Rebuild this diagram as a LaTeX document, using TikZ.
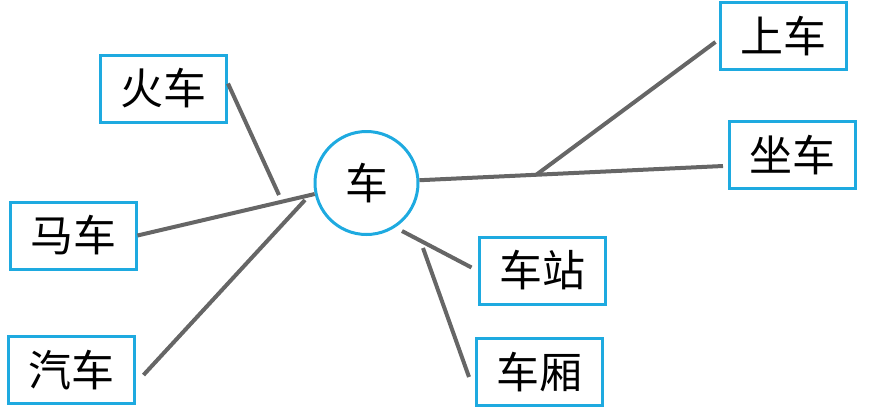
\documentclass[tikz,border=0pt]{standalone}
\usepackage{xcolor}
\usepackage{fontspec}
\usepackage{tikz}
\usetikzlibrary{calc}
\newfontfamily\cjk{Noto Sans CJK SC}
\definecolor{boxblue}{HTML}{1EAAE0}
\definecolor{linegray}{HTML}{666666}
\tikzset{
	wordbox/.style={draw=boxblue, line width=3pt, minimum width=126pt, minimum height=67pt,
		inner sep=0pt, font=\cjk\fontsize{43}{46}\selectfont},
	wordcircle/.style={draw=boxblue, line width=3pt, circle, minimum size=103pt,
		inner sep=0pt, font=\cjk\fontsize{43}{46}\selectfont},
	link/.style={draw=linegray, line width=4pt}
}
\begin{document}
\begin{tikzpicture}[x=1pt, y=-1pt]
	\useasboundingbox (0,0) rectangle (889,408);
	\node[wordcircle] (che) at (366.5,183) {车};
	\node[wordbox] (huoche) at (163.5,88.5) {火车};
	\node[wordbox] (mache) at (73,235.5) {马车};
	\node[wordbox] (qiche) at (71,370) {汽车};
	\node[wordbox] (shangche) at (783,36) {上车};
	\node[wordbox] (zuoche) at (792,155) {坐车};
	\node[wordbox] (chezhan) at (542,270.5) {车站};
	\node[wordbox] (chexiang) at (539.5,372) {车厢};
	% free ends
	\coordinate (huoend) at (279,195);
	\coordinate (qiend) at (305,200);
	\coordinate (zuoend) at (723,166);
	\coordinate (zhanstart) at (402,231);
	\coordinate (xiangstart) at (423,248);
	\coordinate (fork) at ($(che.3)!0.385!(zuoend)$);
	\draw[link] ([yshift=5pt]huoche.east) -- (huoend);
	\draw[link] (mache.east) -- (che.192);
	\draw[link] ([xshift=8pt,yshift=-5pt]qiche.east) -- (qiend);
	\draw[link] (che.3) -- (zuoend);
	\draw[link] (fork) -- ([xshift=-3pt,yshift=-6pt]shangche.west);
	\draw[link] (zhanstart) -- ([xshift=-6pt,yshift=3pt]chezhan.west);
	\draw[link] (xiangstart) -- ([xshift=-6pt,yshift=-5pt]chexiang.west);
\end{tikzpicture}
\end{document}
